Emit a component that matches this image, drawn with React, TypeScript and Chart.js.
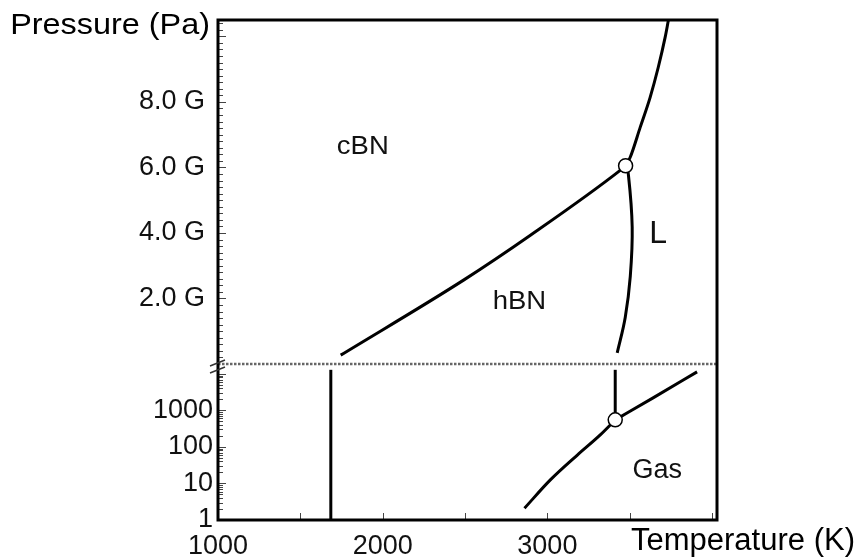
import React, { useEffect, useRef } from "react";
import { Chart, registerables } from "chart.js";

Chart.register(...registerables);

const FONT = "'Liberation Sans', Arial, sans-serif";
const GPA = 1e9;

// ---- data (temperature in K, pressure in GPa for the upper panel, Pa for the lower panel) ----
const cbnHbnT = [1745, 2491, 2897, 3442, 3475];
const cbnHbnP = [0.27, 2.56, 3.93, 5.91, 6.05];

const cbnLiqT = [3475, 3503, 3564, 3624, 3673, 3715, 3735];
const cbnLiqP = [6.05, 6.31, 7.23, 8.14, 9.05, 9.97, 10.5];

const hbnLiqT = [3475, 3491, 3515, 3503, 3473, 3424];
const hbnLiqP = [6.05, 5.82, 4.18, 2.65, 1.43, 0.34];

const breakT = [1000, 4030];
const breakP = [0, 0];

const lowVertT = [1685, 1685];
const lowVertP = [1, 12900];

const meltLowT = [3412, 3412];
const meltLowP = [550, 12900];

const sublimT = [2861, 3018, 3182, 3321, 3412];
const sublimP = [2.1, 12.5, 60, 213, 550];

const vapT = [3412, 3642, 3909];
const vapP = [550, 2200, 11300];

const tripleUpperT = [3475];
const tripleUpperP = [6.05];
const tripleLowerT = [3412];
const tripleLowerP = [550];

// tick values
const xTickLabels = [1000, 2000, 3000];
const xTickMarks = [1500, 2000, 2500, 3000, 3500, 4000];
const yTopTicks = [2, 4, 6, 8];
const yBotTicks = [1, 10, 100, 1000];

// region labels
const regionNames = ["cBN", "hBN", "L", "Gas"];
const regionT = [1879, 2830, 3673, 3667];
const regionP = [6.62, 1.89, 3.96, 22];
const regionAxis = ["yTop", "yTop", "yTop", "yBot"];

const X_MIN = 1000;
const X_MAX = 4030;
const TOP_MAX = 10.5;
const BOT_MAX = 18600;

const zip = (xs: number[], ys: number[], k = 1) => xs.map((x, i) => ({ x, y: ys[i] * k }));

const lineDs = (data: any[], axis: string, extra: any = {}) => ({
  type: "line",
  data,
  yAxisID: axis,
  borderColor: "#000",
  borderWidth: 3,
  pointRadius: 0,
  fill: false,
  tension: 0.4,
  order: 2,
  ...extra,
});

const noPad = (s: any) => {
  s.paddingTop = 0;
  s.paddingBottom = 0;
  s.paddingLeft = 0;
  s.paddingRight = 0;
};

const decorPlugin = {
  id: "decor",
  afterDraw(chart: any) {
    const { ctx, chartArea: ca, scales } = chart;
    const x = scales.x;
    const yt = scales.yTop;
    const yb = scales.yBot;
    ctx.save();

    // inward tick marks on x
    ctx.strokeStyle = "#444";
    ctx.lineWidth = 1;
    ctx.beginPath();
    for (const t of xTickMarks) {
      const px = Math.round(x.getPixelForValue(t)) + 0.5;
      ctx.moveTo(px, ca.bottom);
      ctx.lineTo(px, ca.bottom - 7);
    }
    // upper y ticks
    for (let i = 1; i * 0.2 < TOP_MAX; i++) {
      const v = i * 0.2;
      const py = Math.round(yt.getPixelForValue(v * GPA)) + 0.5;
      const len = i % 10 === 0 ? 8 : 5;
      ctx.moveTo(ca.left, py);
      ctx.lineTo(ca.left + len, py);
    }
    // lower y ticks (log)
    for (let d = 1; d <= 10000; d *= 10) {
      for (let m = 1; m <= 9; m++) {
        const v = d * m;
        if (v > BOT_MAX || v <= 1) continue;
        const py = Math.round(yb.getPixelForValue(v)) + 0.5;
        const len = m === 1 ? 8 : 5;
        ctx.moveTo(ca.left, py);
        ctx.lineTo(ca.left + len, py);
      }
    }
    ctx.stroke();

    // frame
    ctx.strokeStyle = "#000";
    ctx.lineWidth = 3;
    ctx.strokeRect(ca.left, ca.top, ca.right - ca.left, ca.bottom - ca.top);

    // axis break marks
    const by = yt.getPixelForValue(0);
    ctx.strokeStyle = "#333";
    ctx.lineWidth = 1.5;
    ctx.beginPath();
    ctx.moveTo(ca.left - 8, by + 2);
    ctx.lineTo(ca.left + 7, by - 4);
    ctx.moveTo(ca.left - 8, by + 9);
    ctx.lineTo(ca.left + 7, by + 3);
    ctx.stroke();

    // region labels
    ctx.fillStyle = "#111";
    ctx.textAlign = "center";
    ctx.textBaseline = "middle";
    regionNames.forEach((name, i) => {
      const px = x.getPixelForValue(regionT[i]);
      const sc = regionAxis[i] === "yTop" ? yt : yb;
      const py = sc.getPixelForValue(regionAxis[i] === "yTop" ? regionP[i] * GPA : regionP[i]);
      let size = 25;
      let sx = 1.1;
      if (name === "L") { size = 32; sx = 1; }
      if (name === "Gas") { size = 27; sx = 1; }
      ctx.save();
      ctx.translate(px, py);
      ctx.scale(sx, 1);
      ctx.font = `${size}px ${FONT}`;
      ctx.fillText(name, 0, 0);
      ctx.restore();
    });

    // axis titles
    ctx.fillStyle = "#000";
    ctx.save();
    ctx.translate(ca.left - 8, ca.top + 6);
    ctx.scale(1.08, 1);
    ctx.font = `30px ${FONT}`;
    ctx.textAlign = "right";
    ctx.textBaseline = "middle";
    ctx.fillText("Pressure (Pa)", 0, 0);
    ctx.restore();

    ctx.font = `31px ${FONT}`;
    ctx.textAlign = "left";
    ctx.textBaseline = "middle";
    ctx.fillText("Temperature (K)", 631, ca.bottom + 21);

    ctx.restore();
  },
};

export default function App() {
  const ref = useRef<HTMLCanvasElement | null>(null);

  useEffect(() => {
    if (!ref.current) return;
    const chart = new Chart(ref.current, {
      type: "line",
      data: {
        datasets: [
          {
            type: "scatter",
            data: zip(tripleUpperT, tripleUpperP, GPA),
            yAxisID: "yTop",
            pointRadius: 7,
            pointBackgroundColor: "#fff",
            pointBorderColor: "#000",
            pointBorderWidth: 1.5,
            showLine: false,
            clip: false,
            order: 0,
          },
          {
            type: "scatter",
            data: zip(tripleLowerT, tripleLowerP),
            yAxisID: "yBot",
            pointRadius: 7,
            pointBackgroundColor: "#fff",
            pointBorderColor: "#000",
            pointBorderWidth: 1.5,
            showLine: false,
            clip: false,
            order: 0,
          },
          lineDs(zip(breakT, breakP, GPA), "yTop", {
            borderColor: "#666",
            borderWidth: 2.5,
            borderDash: [2.5, 1.5],
            tension: 0,
            clip: false,
            order: 3,
          }),
          lineDs(zip(cbnHbnT, cbnHbnP, GPA), "yTop", { cubicInterpolationMode: "monotone" }),
          lineDs(zip(cbnLiqT, cbnLiqP, GPA), "yTop", { cubicInterpolationMode: "monotone" }),
          lineDs(zip(hbnLiqT, hbnLiqP, GPA), "yTop"),
          lineDs(zip(lowVertT, lowVertP), "yBot", { tension: 0 }),
          lineDs(zip(meltLowT, meltLowP), "yBot", { tension: 0 }),
          lineDs(zip(sublimT, sublimP), "yBot", { cubicInterpolationMode: "monotone" }),
          lineDs(zip(vapT, vapP), "yBot", { cubicInterpolationMode: "monotone" }),
        ] as any,
      },
      options: {
        responsive: false,
        animation: false,
        events: [],
        layout: { padding: { top: 20, right: 144, left: 0, bottom: 0 } },
        plugins: { legend: { display: false }, tooltip: { enabled: false } },
        scales: {
          x: {
            type: "linear",
            min: X_MIN,
            max: X_MAX,
            grid: { display: false, drawTicks: false },
            border: { display: false },
            afterBuildTicks: (s: any) => {
              s.ticks = xTickLabels.map((v) => ({ value: v }));
            },
            afterFit: (s: any) => {
              s.height = 38;
              noPad(s);
            },
            ticks: {
              color: "#111",
              padding: 10,
              maxRotation: 0,
              autoSkip: false,
              font: { family: FONT, size: 27 },
              callback: (v: any) => String(v),
            },
          },
          yTop: {
            type: "linear",
            position: "left",
            stack: "y",
            stackWeight: 344,
            weight: 1,
            min: 0,
            max: TOP_MAX * GPA,
            grid: { display: false, drawTicks: false },
            border: { display: false },
            afterBuildTicks: (s: any) => {
              s.ticks = yTopTicks.map((v) => ({ value: v * GPA }));
            },
            afterFit: (s: any) => {
              s.width = 218;
              noPad(s);
            },
            ticks: {
              color: "#111",
              padding: 13,
              autoSkip: false,
              font: { family: FONT, size: 27 },
              callback: (v: any) => (Number(v) / GPA).toFixed(1) + " G",
            },
          },
          yBot: {
            type: "logarithmic",
            position: "left",
            stack: "y",
            stackWeight: 156,
            weight: 0,
            min: 1,
            max: BOT_MAX,
            grid: { display: false, drawTicks: false },
            border: { display: false },
            afterBuildTicks: (s: any) => {
              s.ticks = yBotTicks.map((v) => ({ value: v }));
            },
            afterFit: (s: any) => {
              s.width = 218;
              noPad(s);
            },
            ticks: {
              color: "#111",
              padding: 5,
              autoSkip: false,
              font: { family: FONT, size: 27 },
              callback: (v: any) => String(v),
            },
          },
        },
      } as any,
      plugins: [decorPlugin],
    });
    return () => chart.destroy();
  }, []);

  return (
    <div style={{ position: "absolute", left: 0, top: 0, width: 861, height: 558, background: "#fff" }}>
      <canvas ref={ref} width={861} height={558} />
    </div>
  );
}
